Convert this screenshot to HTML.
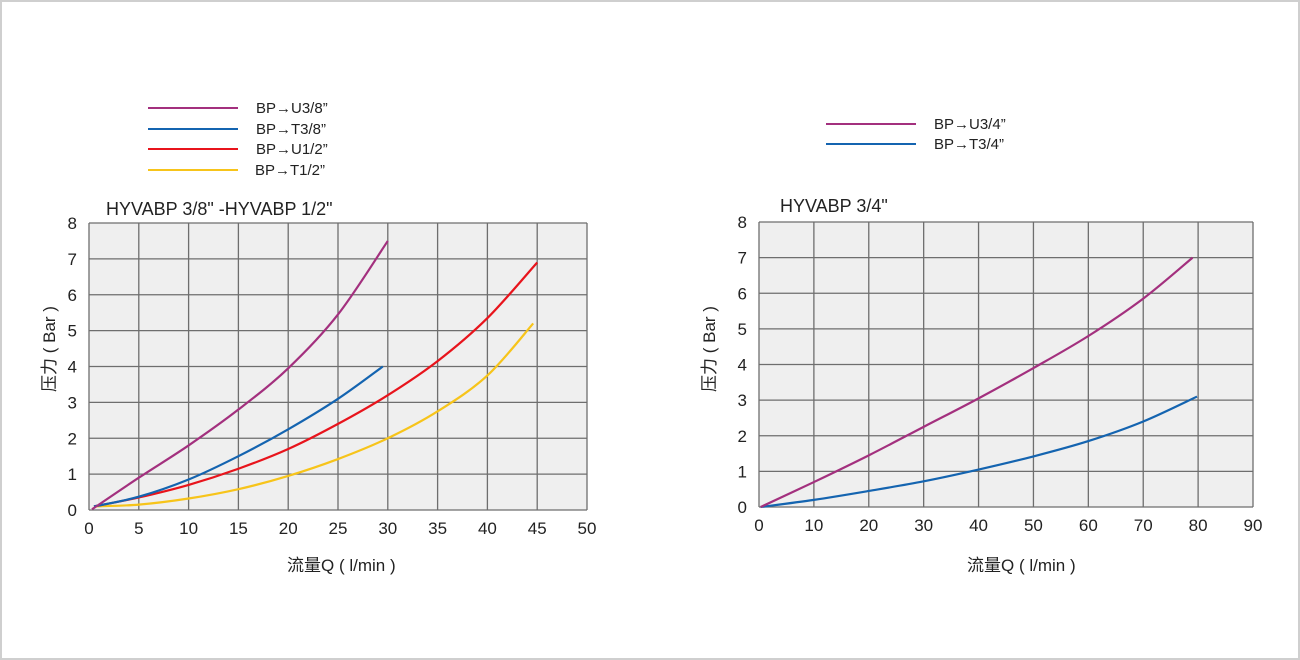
<!DOCTYPE html>
<html><head><meta charset="utf-8"><style>
html,body{margin:0;padding:0;background:#fff}
svg{display:block}
text{font-family:"Liberation Sans","Noto Sans CJK SC",sans-serif;fill:#222}
</style></head><body>
<svg id="s" width="1300" height="660" xmlns="http://www.w3.org/2000/svg">
<rect x="1" y="1" width="1298" height="658" fill="#fff" stroke="#cfcfcf" stroke-width="2"/>
<g id="g"></g>
<g stroke-width="2">
<line x1="148" y1="108" x2="238" y2="108" stroke="#a3307e"/>
<line x1="148" y1="129" x2="238" y2="129" stroke="#1464b0"/>
<line x1="148" y1="149" x2="238" y2="149" stroke="#e8141c"/>
<line x1="148" y1="170" x2="238" y2="170" stroke="#f7c41a"/>
<line x1="826" y1="124" x2="916" y2="124" stroke="#a3307e"/>
<line x1="826" y1="144" x2="916" y2="144" stroke="#1464b0"/>
</g>
<g font-size="15">
<text x="256" y="113">BP→U3/8”</text>
<text x="256" y="134">BP→T3/8”</text>
<text x="256" y="154">BP→U1/2”</text>
<text x="255" y="175">BP→T1/2”</text>
<text x="934" y="129">BP→U3/4”</text>
<text x="934" y="149">BP→T3/4”</text>
</g>
<text x="106" y="215" font-size="18">HYVABP 3/8" -HYVABP 1/2"</text>
<text x="780" y="212" font-size="18">HYVABP 3/4"</text>
<text x="287" y="571" font-size="17">流量Q ( l/min )</text>
<text x="967" y="571" font-size="17">流量Q ( l/min )</text>
<text transform="translate(55,392) rotate(-90)" font-size="17">压力 ( Bar )</text>
<text transform="translate(715,392) rotate(-90)" font-size="17">压力 ( Bar )</text>
</svg>
<script>
const NS="http://www.w3.org/2000/svg",g=document.getElementById('g');
function el(t,a){const e=document.createElementNS(NS,t);for(const k in a)e.setAttribute(k,a[k]);g.appendChild(e);return e;}
function chart(x0,x1,y0,y1,nx,step,series){
 el('rect',{x:x0,y:y1,width:x1-x0,height:y0-y1,fill:'#efefef'});
 const dx=(x1-x0)/nx,dy=(y0-y1)/8;
 for(let i=0;i<=nx;i++){el('line',{x1:x0+i*dx,y1:y1,x2:x0+i*dx,y2:y0,stroke:'#6e6e6e','stroke-width':1.3});
  const t=el('text',{x:x0+i*dx,y:y0+24,'font-size':17,'text-anchor':'middle'});t.textContent=i*step;}
 for(let j=0;j<=8;j++){el('line',{x1:x0,y1:y0-j*dy,x2:x1,y2:y0-j*dy,stroke:'#6e6e6e','stroke-width':1.3});
  const t=el('text',{x:x0-12,y:y0-j*dy+6,'font-size':17,'text-anchor':'end'});t.textContent=j;}
 const X=v=>x0+v/step*dx,Y=v=>y0-v*dy;
 for(const [c,pts] of series){
  const P=pts.map(p=>[X(p[0]),Y(p[1])]);let d='M'+P[0].join(',');
  for(let i=0;i<P.length-1;i++){const p0=P[Math.max(i-1,0)],p1=P[i],p2=P[i+1],p3=P[Math.min(i+2,P.length-1)];
   const c1=[p1[0]+(p2[0]-p0[0])/6,p1[1]+(p2[1]-p0[1])/6],c2=[p2[0]-(p3[0]-p1[0])/6,p2[1]-(p3[1]-p1[1])/6];
   d+=' C'+c1.join(',')+' '+c2.join(',')+' '+p2.join(',');}
  el('path',{d:d,fill:'none',stroke:c,'stroke-width':2.2});
 }
}
chart(89,587,510,223,10,5,[
 ['#f7c41a',[[0.5,0.1],[5,0.15],[10,0.32],[15,0.58],[20,0.95],[25,1.42],[30,2],[35,2.75],[40,3.75],[44.6,5.2]]],
 ['#e8141c',[[0.5,0.1],[5,0.35],[10,0.7],[15,1.15],[20,1.7],[25,2.4],[30,3.2],[35,4.15],[40,5.35],[45,6.9]]],
 ['#1464b0',[[0.5,0.1],[5,0.37],[10,0.85],[15,1.5],[20,2.25],[25,3.1],[29.5,4]]],
 ['#a3307e',[[0.3,0.02],[5,0.9],[10,1.8],[15,2.8],[20,3.95],[25,5.45],[30,7.5]]]
]);
chart(759,1253,507,222,9,10,[
 ['#1464b0',[[0.3,0],[10,0.2],[20,0.45],[30,0.72],[40,1.05],[50,1.42],[60,1.85],[70,2.4],[79.8,3.1]]],
 ['#a3307e',[[0.3,0],[10,0.7],[20,1.45],[30,2.25],[40,3.05],[50,3.9],[60,4.8],[70,5.85],[79,7]]]
]);
</script>
</body></html>
